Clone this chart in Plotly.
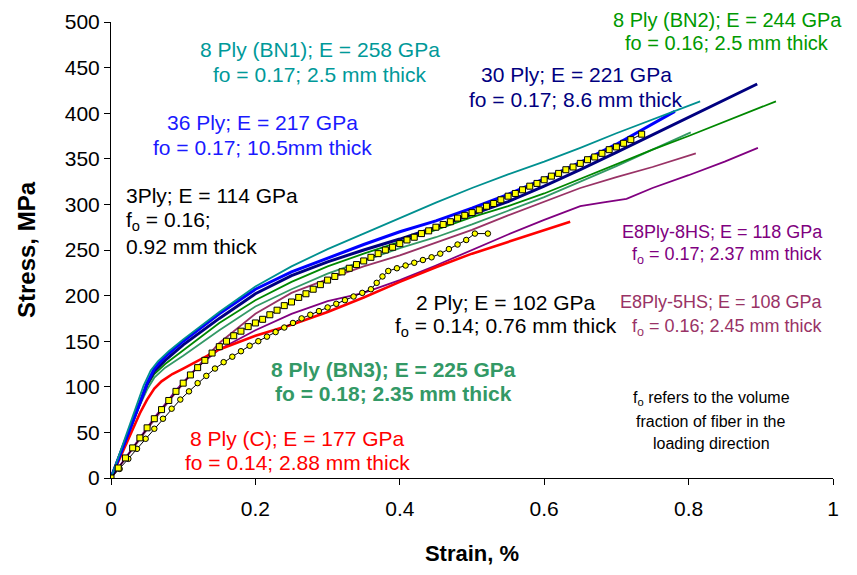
import plotly.graph_objects as go

# ---------------- data (strain %, stress MPa) ----------------
bn1_strain = [0, 0.02, 0.03, 0.045, 0.055, 0.065, 0.08, 0.10, 0.15, 0.20, 0.25, 0.30, 0.35, 0.40, 0.45, 0.50, 0.55, 0.60, 0.65, 0.70, 0.75, 0.80, 0.816]
bn1_stress = [0, 46, 69, 101, 118, 128, 139, 152, 182, 210, 232, 251, 268, 285, 302, 318, 333, 347, 362, 378, 393, 408, 413]

ply36_strain = [0, 0.02, 0.04, 0.05, 0.06, 0.075, 0.10, 0.15, 0.20, 0.25, 0.30, 0.35, 0.40, 0.45, 0.50, 0.55, 0.60, 0.65, 0.70, 0.733, 0.781]
ply36_stress = [0, 40, 82, 104, 120, 133, 150, 180, 207, 226, 241, 256, 270, 282, 296, 311, 328, 346, 366, 381, 402]

ply30_strain = [0, 0.02, 0.04, 0.05, 0.06, 0.075, 0.10, 0.15, 0.20, 0.25, 0.30, 0.35, 0.40, 0.45, 0.50, 0.55, 0.60, 0.65, 0.70, 0.75, 0.80, 0.85, 0.895]
ply30_stress = [0, 42, 84, 103, 117, 129, 146, 175, 202, 222, 237, 250, 262, 275, 289, 303, 320, 338, 357, 376, 395, 414, 432]

bn2_strain = [0, 0.02, 0.04, 0.05, 0.06, 0.075, 0.10, 0.15, 0.20, 0.25, 0.30, 0.35, 0.40, 0.45, 0.50, 0.55, 0.60, 0.65, 0.70, 0.75, 0.80, 0.85, 0.921]
bn2_stress = [0, 42, 83, 101, 114, 125, 140, 170, 195, 215, 232, 246, 259, 272, 286, 298, 312, 328, 344, 360, 375, 391, 413]

bn3_strain = [0, 0.02, 0.04, 0.05, 0.06, 0.075, 0.10, 0.15, 0.20, 0.25, 0.30, 0.35, 0.40, 0.45, 0.50, 0.55, 0.60, 0.65, 0.70, 0.75, 0.803]
bn3_stress = [0, 40, 80, 97, 110, 121, 134, 162, 188, 207, 224, 238, 252, 264, 278, 293, 308, 325, 342, 360, 379]

hs5_strain = [0, 0.03, 0.06, 0.09, 0.12, 0.15, 0.20, 0.25, 0.30, 0.35, 0.40, 0.45, 0.50, 0.55, 0.60, 0.65, 0.70, 0.75, 0.81]
hs5_stress = [0, 32, 64, 94, 122, 148, 180, 203, 218, 232, 244, 258, 272, 288, 303, 318, 330, 341, 356]

hs8_strain = [0, 0.03, 0.06, 0.09, 0.12, 0.15, 0.20, 0.25, 0.30, 0.35, 0.40, 0.45, 0.50, 0.55, 0.60, 0.65, 0.68, 0.714, 0.75, 0.80, 0.85, 0.896]
hs8_stress = [0, 33, 66, 96, 122, 141, 162, 180, 194, 203, 217, 233, 250, 267, 283, 298, 302, 306, 318, 332, 347, 362]

c_strain = [0, 0.02, 0.04, 0.05, 0.06, 0.07, 0.085, 0.10, 0.15, 0.20, 0.25, 0.30, 0.35, 0.40, 0.45, 0.50, 0.55, 0.60, 0.636]
c_stress = [0, 36, 71, 86, 98, 106, 114, 120, 141, 156, 168, 182, 198, 215, 231, 246, 259, 272, 281]

ply3_strain = [0, 0.01, 0.02, 0.03, 0.04, 0.05, 0.06, 0.07, 0.08, 0.09, 0.10, 0.11, 0.12, 0.13, 0.14, 0.15,
               0.16, 0.17, 0.18, 0.19, 0.20, 0.21, 0.22, 0.23, 0.24, 0.25, 0.26, 0.27, 0.28, 0.29, 0.30,
               0.31, 0.32, 0.33, 0.34, 0.35, 0.36, 0.37, 0.38, 0.39, 0.40, 0.41, 0.42, 0.43, 0.44, 0.45,
               0.46, 0.47, 0.48, 0.49, 0.50, 0.51, 0.52, 0.53, 0.54, 0.55, 0.56, 0.57, 0.58, 0.59, 0.60,
               0.61, 0.62, 0.63, 0.64, 0.65, 0.66, 0.67, 0.68, 0.69, 0.70, 0.71, 0.72, 0.735]
ply3_stress = [0, 11, 22, 33, 44, 55, 65, 75, 85, 95, 104, 113, 121, 129, 137, 144,
               150, 156, 161, 166, 170, 174, 179, 184, 189, 193, 198, 202, 207, 212, 217,
               221, 226, 230, 234, 238, 242, 246, 250, 253, 257, 261, 264, 268, 271, 275,
               278, 281, 285, 288, 291, 294, 298, 301, 305, 309, 312, 316, 320, 323, 327,
               331, 334, 338, 341, 345, 349, 352, 356, 360, 363, 367, 371, 377]

ply2_strain = [0, 0.012, 0.024, 0.036, 0.048, 0.06, 0.072, 0.084, 0.096, 0.108, 0.12, 0.132, 0.144, 0.156,
               0.168, 0.18, 0.192, 0.204, 0.216, 0.228, 0.24, 0.252, 0.264, 0.276, 0.288, 0.30, 0.312,
               0.324, 0.336, 0.348, 0.36, 0.368, 0.376, 0.384, 0.396, 0.408, 0.42, 0.432, 0.444, 0.456,
               0.468, 0.48, 0.492, 0.504, 0.522]
ply2_stress = [0, 10, 21, 32, 43, 54, 65, 76, 86, 95, 104, 112, 120, 127,
               133, 139, 145, 150, 155, 160, 165, 170, 175, 179, 183, 187, 191,
               195, 199, 203, 207, 214, 221, 227, 230, 233, 236, 239, 242, 246,
               251, 256, 261, 268, 268]

x_ticks = [0, 0.2, 0.4, 0.6, 0.8, 1]
x_ticklabels = ["0", "0.2", "0.4", "0.6", "0.8", "1"]
y_ticks = [0, 50, 100, 150, 200, 250, 300, 350, 400, 450, 500]

# ---------------- figure ----------------
fig = go.Figure()

def line(xs, ys, color, width):
    fig.add_trace(go.Scatter(x=xs, y=ys, mode="lines", line=dict(color=color, width=width),
                             showlegend=False, hoverinfo="skip"))

line(hs5_strain, hs5_stress, "#993366", 1.8)
line(hs8_strain, hs8_stress, "#800080", 1.8)
line(c_strain, c_stress, "#FF0000", 2.6)
line(bn3_strain, bn3_stress, "#339966", 1.8)
line(bn2_strain, bn2_stress, "#008800", 1.8)
line(ply30_strain, ply30_stress, "#000080", 3)
line(ply36_strain, ply36_stress, "#0000FF", 3)
line(bn1_strain, bn1_stress, "#009090", 1.8)

fig.add_trace(go.Scatter(x=ply2_strain, y=ply2_stress, mode="lines+markers",
                         line=dict(color="black", width=1),
                         marker=dict(symbol="circle", size=5.5, color="#FFFF00",
                                     line=dict(color="black", width=1)),
                         showlegend=False, hoverinfo="skip"))
fig.add_trace(go.Scatter(x=ply3_strain, y=ply3_stress, mode="lines+markers",
                         line=dict(color="black", width=1),
                         marker=dict(symbol="square", size=6, color="#FFFF00",
                                     line=dict(color="black", width=1)),
                         showlegend=False, hoverinfo="skip"))

# page body adds an 8px offset; layout below is in screenshot pixels
OFF = 8
L, R, T, B = 111, 833, 22, 478
W, H = 857 - OFF, 575 - OFF

def P(px, py):
    return (px - L) / (R - L), (B - py) / (B - T)

def note(px, ys, lines, color, size=21, xanchor="center", bold=False):
    for py, t in zip(ys, lines):
        x, y = P(px, py)
        if bold:
            t = "<b>" + t + "</b>"
        fig.add_annotation(x=x, y=y, xref="paper", yref="paper", text=t, showarrow=False,
                           xanchor=xanchor, yanchor="middle",
                           font=dict(family="Arial, Liberation Sans", size=size, color=color))

note(320, [50, 74], ["8 Ply (BN1); E = 258 GPa", "fo = 0.17; 2.5 mm thick"], "#009999")
note(727, [20, 43], ["8 Ply (BN2); E = 244 GPa", "fo = 0.16; 2.5 mm thick"], "#009900", size=20)
note(576, [75, 99], ["30 Ply; E = 221 GPa", "fo = 0.17; 8.6 mm thick"], "#000080")
note(262, [123, 147], ["36 Ply; E = 217 GPa", "fo = 0.17; 10.5mm thick"], "#1A1AFF")
note(124, [196, 221, 246], ["3Ply; E = 114 GPa", "f<sub>o</sub> = 0.16;", "0.92 mm thick"], "black", xanchor="left")
note(506, [302, 327], ["2 Ply; E = 102 GPa", "f<sub>o</sub> = 0.14; 0.76 mm thick"], "black")
note(825, [232, 256], ["E8Ply-8HS; E = 118 GPa", "f<sub>o</sub> = 0.17; 2.37 mm thick"], "#800080", size=18, xanchor="right")
note(825, [302, 327], ["E8Ply-5HS; E = 108 GPa", "f<sub>o</sub> = 0.16; 2.45 mm thick"], "#993366", size=18, xanchor="right")
note(393, [369, 393], ["8 Ply (BN3); E = 225 GPa", "fo = 0.18; 2.35 mm thick"], "#339966", bold=True)
note(297, [438, 462], ["8 Ply (C); E = 177 GPa", "fo = 0.14; 2.88 mm thick"], "#FF0000")
note(711, [398, 421, 443], ["f<sub>o</sub> refers to the volume", "fraction of fiber in the", "loading direction"], "black", size=16)

fig.update_layout(
    width=W, height=H,
    margin=dict(l=L - OFF, r=857 - R, t=T - OFF, b=575 - B, autoexpand=False),
    paper_bgcolor="white", plot_bgcolor="white",
    font=dict(family="Arial, Liberation Sans", color="black"),
    xaxis=dict(range=[0, 1], tickvals=x_ticks, ticktext=x_ticklabels, automargin=False,
               showgrid=False, zeroline=False, showline=True, linecolor="black", linewidth=1,
               ticks="outside", ticklen=6, tickcolor="black", ticklabelstandoff=6,
               tickfont=dict(size=21, family="Arial, Liberation Sans"),
               title=dict(text="<b>Strain, %</b>", font=dict(size=22), standoff=26)),
    yaxis=dict(range=[0, 500], tickvals=y_ticks, automargin=False,
               showgrid=False, zeroline=False, showline=True, linecolor="black", linewidth=1,
               ticks="outside", ticklen=6, tickcolor="black",
               tickfont=dict(size=21, family="Arial, Liberation Sans"),
               title=dict(text="<b>Stress, MPa</b>", font=dict(size=24), standoff=22)),
)

fig.write_html("out.html")
